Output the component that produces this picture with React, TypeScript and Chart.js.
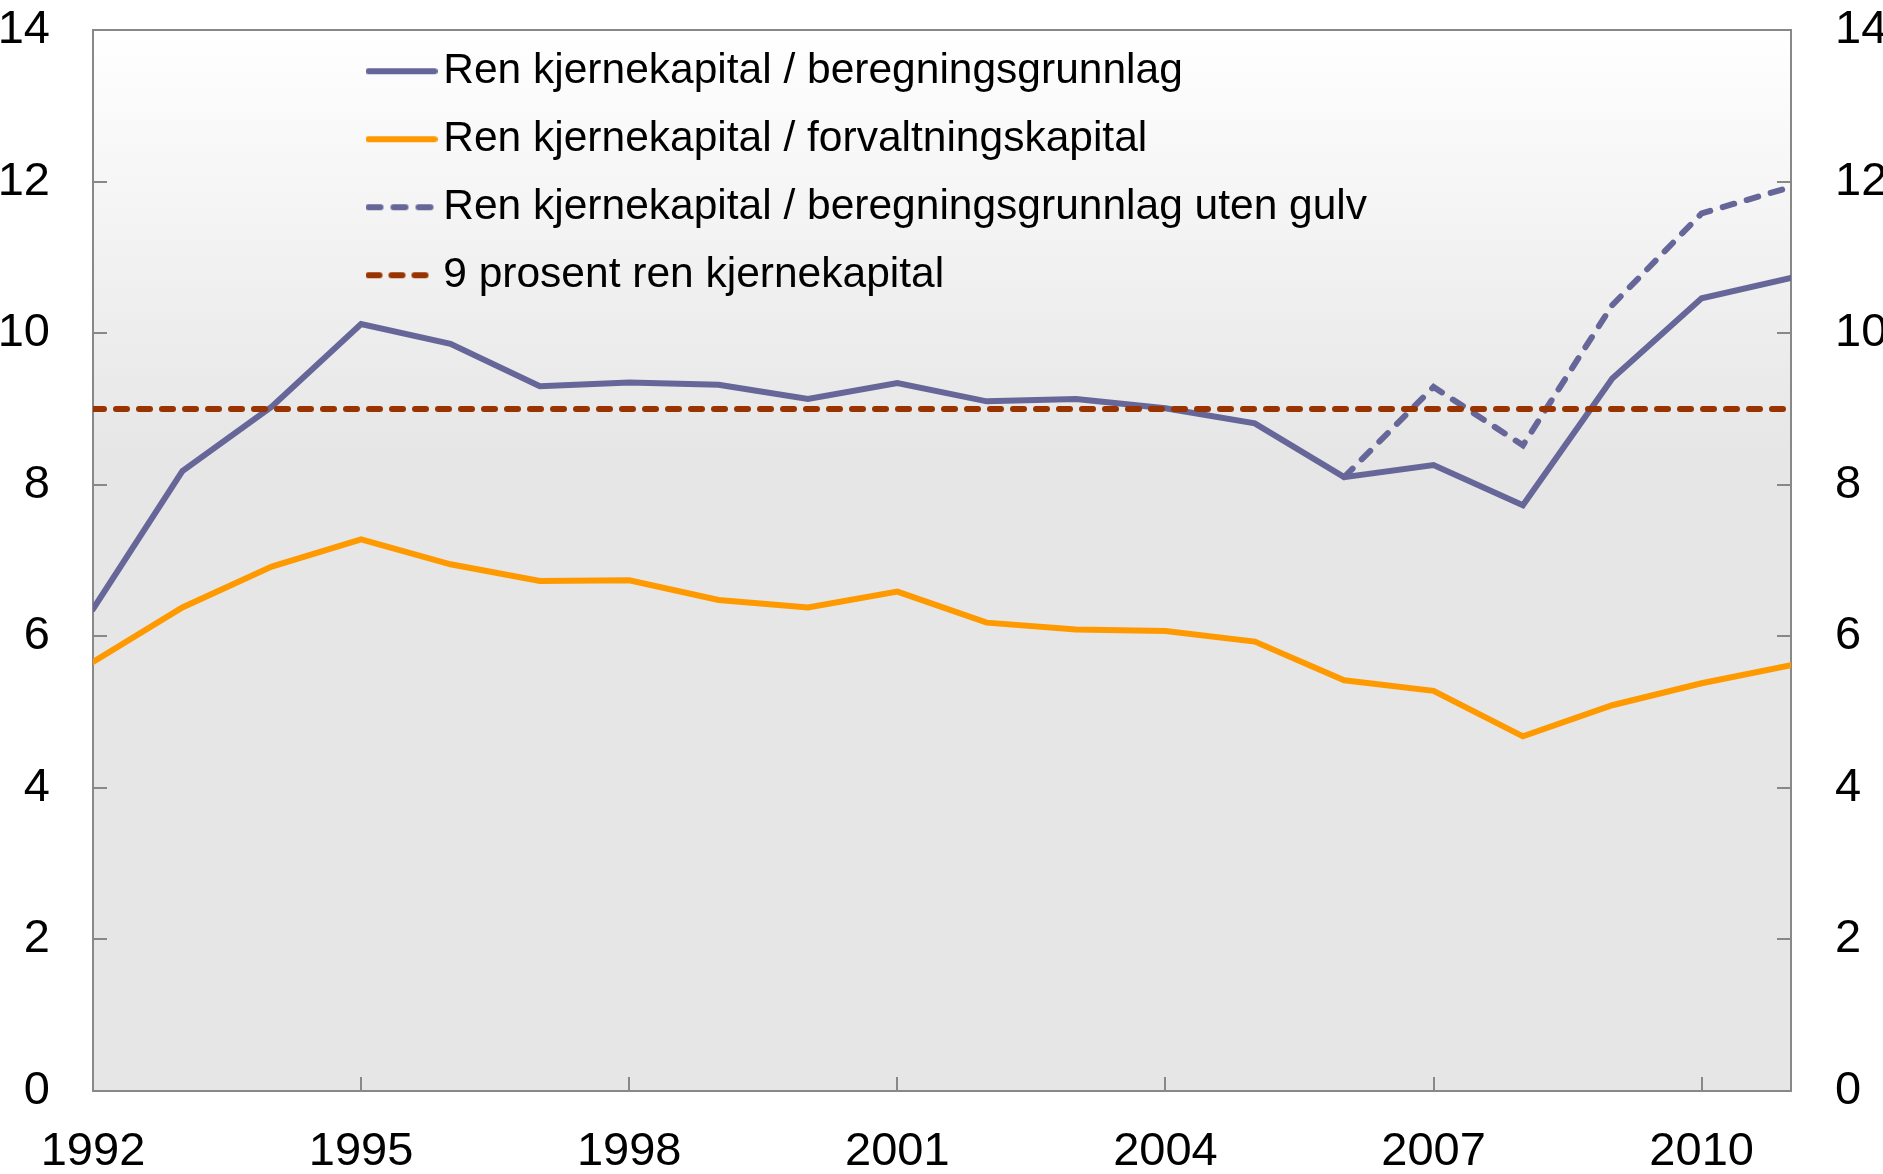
import React, { useEffect, useRef } from 'react';
import { Chart, registerables } from 'chart.js';

Chart.register(...registerables);

const FONT = '"Liberation Sans", Arial, Helvetica, sans-serif';

const years = [1992, 1993, 1994, 1995, 1996, 1997, 1998, 1999, 2000, 2001, 2002, 2003, 2004, 2005, 2006, 2007, 2008, 2009, 2010, 2011];
const rkBeregning = [6.36, 8.18, 9.03, 10.12, 9.86, 9.30, 9.35, 9.32, 9.13, 9.34, 9.10, 9.13, 9.01, 8.81, 8.10, 8.26, 7.73, 9.40, 10.46, 10.73];
const rkForvaltning = [5.66, 6.38, 6.92, 7.28, 6.95, 6.73, 6.74, 6.48, 6.38, 6.59, 6.18, 6.09, 6.07, 5.93, 5.42, 5.28, 4.68, 5.09, 5.38, 5.62];
const rkUtenGulv = [null, null, null, null, null, null, null, null, null, null, null, null, null, null, 8.10, 9.29, 8.52, 10.37, 11.58, 11.93];
const niProsent = [9, 9, 9, 9, 9, 9, 9, 9, 9, 9, 9, 9, 9, 9, 9, 9, 9, 9, 9, 9];

const seriesLabels = [
  'Ren kjernekapital / beregningsgrunnlag',
  'Ren kjernekapital / forvaltningskapital',
  'Ren kjernekapital / beregningsgrunnlag uten gulv',
  '9 prosent ren kjernekapital',
];
const seriesColors = ['#666699', '#FF9900', '#666699', '#993300'];
const seriesDashes: number[][] = [[], [], [12, 13], [11, 12]];
const xTickValues = [1992, 1995, 1998, 2001, 2004, 2007, 2010];
const yTickValues = [0, 2, 4, 6, 8, 10, 12, 14];

const LINE_W = 6;

const toPoints = (vals: (number | null)[]) => years.map((x, i) => ({ x, y: vals[i] }));

function makeLegendSample(color: string, dash: number[]) {
  const c = document.createElement('canvas');
  c.width = 72;
  c.height = 10;
  const ctx = c.getContext('2d');
  if (ctx) {
    ctx.strokeStyle = color;
    ctx.lineWidth = LINE_W;
    ctx.lineCap = 'round';
    ctx.setLineDash(dash);
    ctx.beginPath();
    ctx.moveTo(3, 5);
    ctx.lineTo(69, 5);
    ctx.stroke();
  }
  return c;
}

const framePlugin = {
  id: 'framePlugin',
  beforeDraw(chart: any) {
    const { ctx, chartArea: a } = chart;
    const g = ctx.createLinearGradient(0, a.top, 0, a.bottom);
    g.addColorStop(0, '#ffffff');
    g.addColorStop(0.4, '#e6e6e6');
    g.addColorStop(1, '#e6e6e6');
    ctx.save();
    ctx.fillStyle = g;
    ctx.fillRect(a.left, a.top, a.right - a.left, a.bottom - a.top);
    ctx.restore();
  },
  beforeDatasetsDraw(chart: any) {
    const { ctx, chartArea: a, scales } = chart;
    ctx.save();
    ctx.strokeStyle = '#888888';
    ctx.lineWidth = 2;
    ctx.strokeRect(a.left, a.top, a.right - a.left, a.bottom - a.top);
    ctx.beginPath();
    scales.y.ticks.forEach((t: any) => {
      const py = Math.round(scales.y.getPixelForValue(t.value));
      ctx.moveTo(a.left, py);
      ctx.lineTo(a.left + 14, py);
      ctx.moveTo(a.right, py);
      ctx.lineTo(a.right - 14, py);
    });
    scales.x.ticks.forEach((t: any) => {
      const px = Math.round(scales.x.getPixelForValue(t.value));
      ctx.moveTo(px, a.bottom);
      ctx.lineTo(px, a.bottom - 14);
    });
    ctx.stroke();
    ctx.restore();
  },
};

const legendPlacePlugin = {
  id: 'legendPlace',
  afterLayout(chart: any) {
    const lg = chart.legend;
    if (lg) {
      lg.left = 355.5;
      lg.top = 24.5;
      lg.right = chart.chartArea.right;
      lg.bottom = chart.chartArea.bottom;
    }
  },
};

export default function App() {
  const ref = useRef<HTMLCanvasElement | null>(null);

  useEffect(() => {
    if (!ref.current) return;
    Chart.defaults.font.family = FONT;
    const tickFont = { size: 47, family: FONT };
    const samples = seriesColors.map((c, i) => makeLegendSample(c, seriesDashes[i]));
    const orders = [2, 3, 1, 0];
    const seriesData = [rkBeregning, rkForvaltning, rkUtenGulv, niProsent];
    const chart = new Chart(ref.current, {
      type: 'line',
      data: {
        datasets: seriesLabels.map((label, i) => ({
          label,
          data: toPoints(seriesData[i]),
          borderColor: seriesColors[i],
          backgroundColor: seriesColors[i],
          borderWidth: LINE_W,
          pointRadius: 0,
          borderDash: seriesDashes[i],
          borderCapStyle: 'round',
          order: orders[i],
        })) as any,
      },
      options: {
        responsive: false,
        animation: false,
        devicePixelRatio: 1,
        layout: { padding: { top: 30, left: 0, right: 0, bottom: 0 } },
        scales: {
          x: {
            type: 'linear',
            position: 'bottom',
            min: 1992,
            max: 2011,
            grid: { display: false, drawTicks: false },
            border: { display: false },
            afterBuildTicks: (s: any) => {
              s.ticks = xTickValues.map((v) => ({ value: v }));
            },
            afterFit: (s: any) => {
              s.height = 83;
              s.paddingLeft = 0;
              s.paddingRight = 0;
            },
            ticks: {
              autoSkip: false,
              maxRotation: 0,
              padding: 33,
              color: '#000000',
              font: tickFont,
              callback: (v: any) => String(v),
            },
          },
          y: {
            position: 'left',
            min: 0,
            max: 14,
            grid: { display: false, drawTicks: false },
            border: { display: false },
            afterBuildTicks: (s: any) => {
              s.ticks = yTickValues.map((v) => ({ value: v }));
            },
            afterFit: (s: any) => {
              s.width = 93;
              s.paddingTop = 0;
              s.paddingBottom = 0;
            },
            ticks: { padding: 43, color: '#000000', font: tickFont, callback: (v: any) => String(v) },
          },
          y2: {
            position: 'right',
            min: 0,
            max: 14,
            grid: { display: false, drawTicks: false },
            border: { display: false },
            afterBuildTicks: (s: any) => {
              s.ticks = yTickValues.map((v) => ({ value: v }));
            },
            afterFit: (s: any) => {
              s.width = 92;
              s.paddingTop = 0;
              s.paddingBottom = 0;
            },
            ticks: { padding: 44, color: '#000000', font: tickFont, callback: (v: any) => String(v) },
          },
        } as any,
        plugins: {
          tooltip: { enabled: false },
          legend: {
            position: 'chartArea' as any,
            align: 'start',
            labels: {
              usePointStyle: true,
              pointStyleWidth: 41,
              padding: 25.5,
              color: '#000000',
              textAlign: 'left',
              font: { size: 42.5, family: FONT },
              sort: (a: any, b: any) => a.datasetIndex - b.datasetIndex,
              generateLabels: (ch: any) => {
                const items = (Chart.defaults.plugins.legend.labels as any).generateLabels(ch);
                return items.map((it: any) => ({ ...it, pointStyle: samples[it.datasetIndex], lineWidth: 0 }));
              },
            },
          },
        },
      } as any,
      plugins: [framePlugin, legendPlacePlugin],
    });
    return () => chart.destroy();
  }, []);

  return (
    <div style={{ position: 'fixed', left: 0, top: 0, width: 1883, height: 1174, background: '#ffffff' }}>
      <canvas ref={ref} width={1883} height={1174} style={{ display: 'block' }} />
    </div>
  );
}
